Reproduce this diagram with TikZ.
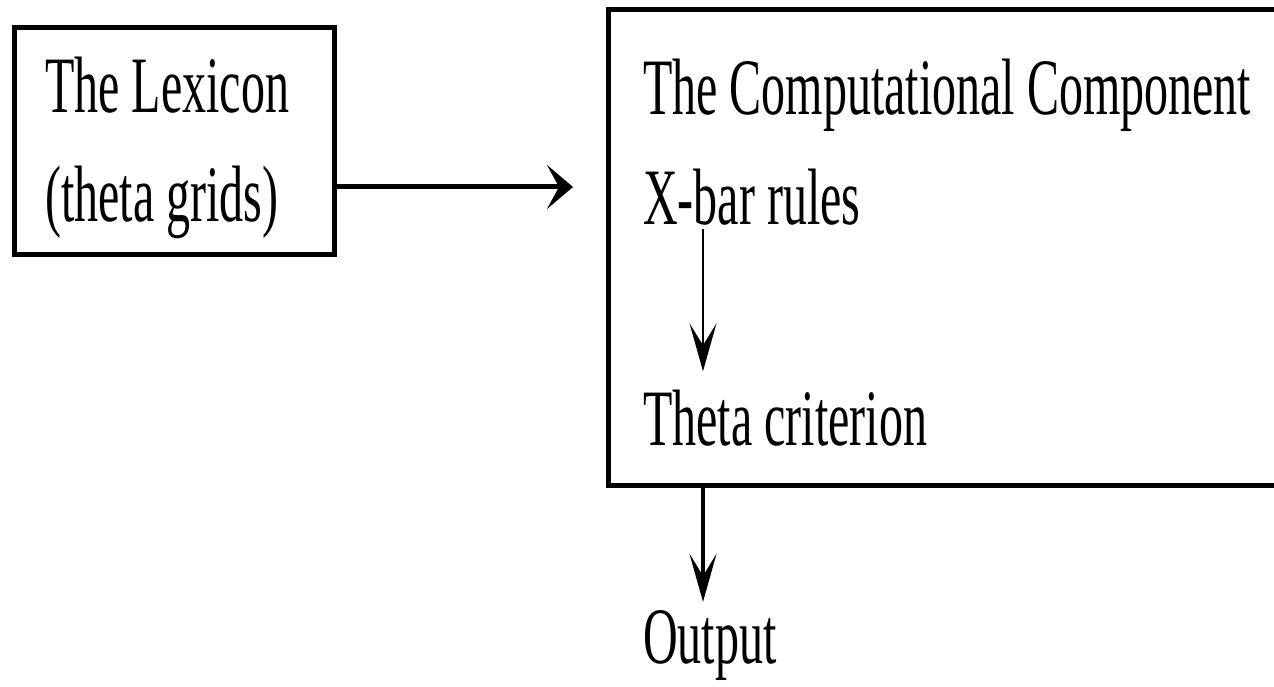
\documentclass[tikz,border=0pt]{standalone}
\usepackage{fontspec}
\usepackage{graphicx}
\setmainfont{Liberation Serif}
\usetikzlibrary{arrows.meta}
\newcommand{\cond}[1]{\scalebox{0.6}[1]{#1}}
\tikzset{
  txt/.style={anchor=base west, inner sep=0pt, font=\fontsize{80}{96}\selectfont},
  boxframe/.style={draw, line width=5pt, inner sep=0pt},
  bigtip/.style={-{Stealth[length=26pt,width=44pt,inset=12pt]}},
  thintip/.style={-{Stealth[length=48pt,width=27pt,inset=22pt]}}
}
\begin{document}
\begin{tikzpicture}[x=1pt,y=-1pt]
\useasboundingbox (0,0) rectangle (1274,687);
% boxes
\node[boxframe, minimum width=320pt, minimum height=227pt] (lex) at (174.5,141) {};
\node[boxframe, minimum width=672pt, minimum height=475pt] (cc) at (944,247.5) {};
% texts
\node[txt] (lexa) at (45,113) {\cond{The Lexicon}};
\node[txt] (lexb) at (45,222) {\cond{(theta grids)}};
\node[txt] (cct) at (643,115) {\cond{The Computational Component}};
\node[txt] (xbar) at (643,225) {\cond{X-bar rules}};
\node[txt] (theta) at (643,445) {\cond{Theta criterion}};
\node[txt] (out) at (643,663) {\cond{Output}};
% connector coordinates
\coordinate (hend) at (573,187);
\coordinate (vx) at ([xshift=60pt]xbar.base west);
% arrows
\draw[bigtip, line width=5pt] (lex.east |- hend) -- (hend);
\draw[thintip, line width=2.5pt] ([yshift=-4pt]vx) -- ([yshift=18pt]vx |- theta.north);
\draw[thintip, line width=4pt] (vx |- cc.south) -- ([yshift=8pt]vx |- out.north);
\end{tikzpicture}
\end{document}
